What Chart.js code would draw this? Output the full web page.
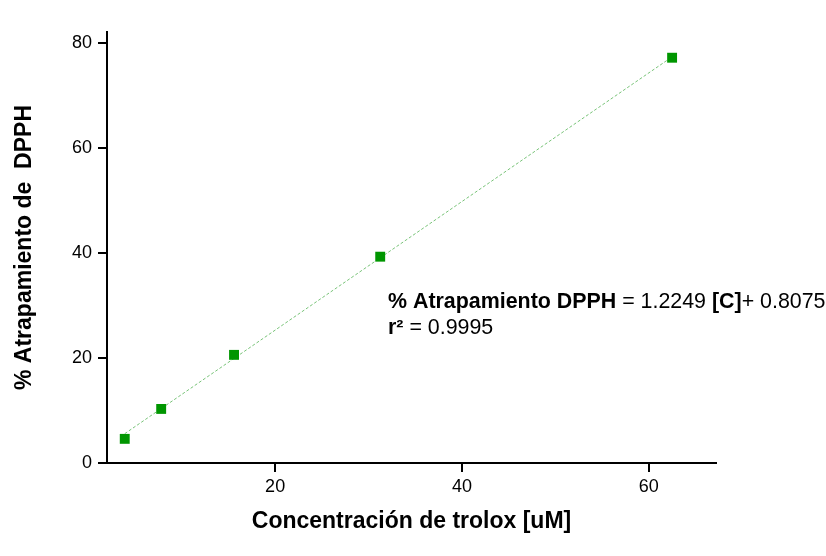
<!DOCTYPE html>
<html>
<head>
<meta charset="utf-8">
<script src="https://cdn.jsdelivr.net/npm/chart.js@4.4.1/dist/chart.umd.min.js"></script>
<style>
  html, body { margin: 0; padding: 0; background: #ffffff; }
  #wrap { width: 826px; height: 556px; }
</style>
</head>
<body>
<div id="wrap"><canvas id="myChart" width="826" height="556"></canvas></div>
<script>
// trolox concentration [uM] and % DPPH scavenging
var concentracion = [3.9, 7.8, 15.6, 31.25, 62.5];
var atrapamiento = [4.6, 10.3, 20.6, 39.3, 77.2];
// fitted line shown on the plot
var pendiente = 1.2249;
var intercepto = 0.8075;
var ajusteX = [3.9, 62.5];
var xTicks = [20, 40, 60];
var yTicks = [0, 20, 40, 60, 80];

var ajuste = ajusteX.map(function (x) { return { x: x, y: pendiente * x + intercepto }; });
var puntos = concentracion.map(function (x, i) { return { x: x, y: atrapamiento[i] }; });

var FONT = '"Liberation Sans", Arial, sans-serif';

var ecuacion = {
  id: 'ecuacion',
  afterDraw: function (chart) {
    var c = chart.ctx;
    c.save();
    c.fillStyle = '#000';
    c.textBaseline = 'alphabetic';
    var partes1 = [['% Atrapamiento DPPH', true], [' = 1.2249 ', false], ['[C]', true], ['+ 0.8075', false]];
    var partes2 = [['r\u00b2', true], [' = 0.9995', false]];
    function linea(partes, x, y) {
      partes.forEach(function (p) {
        c.font = (p[1] ? 'bold ' : '') + '21.4px ' + FONT;
        c.fillText(p[0], x, y);
        x += c.measureText(p[0]).width;
      });
    }
    linea(partes1, 388, 308);
    linea(partes2, 388, 334);
    c.restore();
  }
};

var ctx = document.getElementById('myChart').getContext('2d');
var myChart = new Chart(ctx, {
  type: 'scatter',
  data: {
    datasets: [{
      type: 'line',
      order: 2,
      data: ajuste,
      borderColor: 'rgb(120, 195, 120)',
      borderWidth: 1,
      borderDash: [3, 2],
      pointRadius: 0,
      fill: false
    }, {
      order: 1,
      data: puntos,
      pointStyle: 'rect',
      pointRadius: 7,
      backgroundColor: 'rgb(0, 150, 0)',
      borderColor: 'rgb(0, 150, 0)',
      borderWidth: 0
    }]
  },
  options: {
    responsive: false,
    animation: false,
    layout: { padding: { top: 32, right: 110, left: 0, bottom: 0 } },
    plugins: { legend: { display: false }, tooltip: { enabled: false } },
    scales: {
      x: {
        type: 'linear',
        min: 2,
        max: 67.2,
        afterBuildTicks: function (s) { s.ticks = xTicks.map(function (v) { return { value: v }; }); },
        afterFit: function (s) { s.height = 93; },
        border: { display: true, color: '#000', width: 2 },
        grid: { drawOnChartArea: false, color: '#000', lineWidth: 2, tickLength: 9 },
        ticks: { color: '#000', font: { family: FONT, size: 18 }, padding: 4, maxRotation: 0 },
        title: {
          display: true,
          text: 'Concentración de trolox [uM]',
          color: '#000',
          font: { family: FONT, size: 23, weight: 'bold' },
          padding: { top: 4, bottom: 21 }
        }
      },
      y: {
        min: 0,
        max: 82.1,
        afterBuildTicks: function (s) { s.ticks = yTicks.map(function (v) { return { value: v }; }); },
        afterFit: function (s) { s.width = 107; },
        border: { display: true, color: '#000', width: 2 },
        grid: { drawOnChartArea: false, color: '#000', lineWidth: 2, tickLength: 9 },
        ticks: { color: '#000', font: { family: FONT, size: 18 }, padding: 6 },
        title: {
          display: true,
          text: '% Atrapamiento de  DPPH',
          color: '#000',
          font: { family: FONT, size: 23, weight: 'bold' },
          padding: { top: 11, bottom: 4 }
        }
      }
    }
  },
  plugins: [ecuacion]
});
</script>
</body>
</html>
